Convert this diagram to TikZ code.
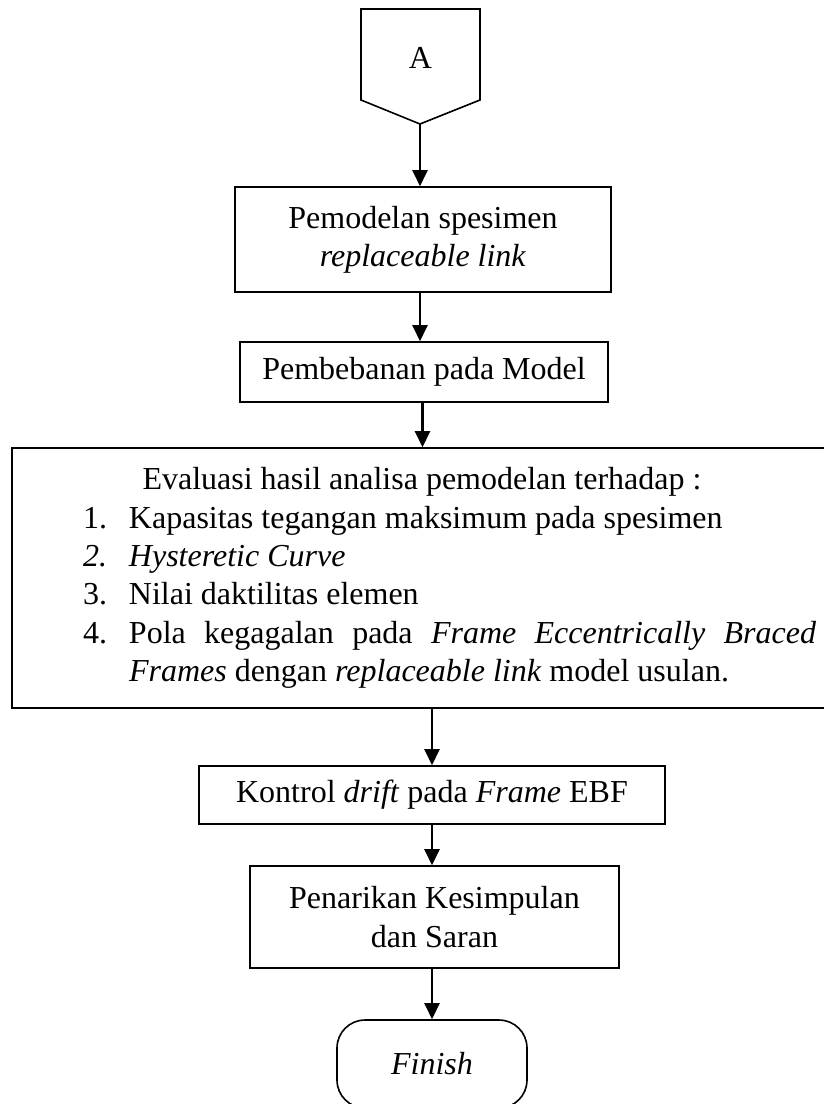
\documentclass[tikz,border=0pt]{standalone}
\usepackage{fontspec}
\setmainfont{Liberation Serif}
\usetikzlibrary{arrows.meta,calc}
\newcommand\bigfnt{\fontsize{32pt}{38.4pt}\selectfont}
\begin{document}
\begin{tikzpicture}[x=1pt,y=-1pt,
  box/.style={draw, line width=1.6pt, inner sep=0pt, align=center, font=\bigfnt},
  term/.style={draw, line width=1.6pt, inner sep=0pt, rounded corners=28pt, font=\bigfnt},
  offpage/.style={draw, line width=1.6pt, line join=miter},
  arr/.style={line width=2.4pt, -{Triangle[length=16pt,width=15pt]}}]
\useasboundingbox (0,0) rectangle (823,1104);
% off-page connector A
\draw[offpage] (361,9) -- (480,9) -- (480,100) -- (420,124) -- (361,100) -- cycle;
\node[font=\bigfnt, inner sep=0pt] (A) at (420.5,58) {A};
\coordinate (Atip) at (420,124);
% boxes
\node[box, minimum width=376pt, minimum height=105pt] (b1) at (423,239.5)
  {Pemodelan spesimen\\\textit{replaceable link}};
\node[box, minimum width=368pt, minimum height=60pt] (b2) at (424,372)
  {Pembebanan pada Model};
\node[box, minimum width=820pt, minimum height=260pt] (b3) at (422,578)
  {\parbox{788pt}{\bigfnt\tolerance=9999\emergencystretch=40pt
   \centering Evaluasi hasil analisa pemodelan terhadap :\par
   \leftskip=101pt\rightskip=0pt\parfillskip=0pt plus 1fil
   \noindent\llap{\makebox[46pt][l]{1.}}Kapasitas tegangan maksimum pada spesimen\par
   \noindent\llap{\makebox[46pt][l]{\itshape 2.}}\textit{Hysteretic Curve}\par
   \noindent\llap{\makebox[46pt][l]{3.}}Nilai daktilitas elemen\par
   \noindent\llap{\makebox[46pt][l]{4.}}Pola kegagalan pada \textit{Frame Eccentrically Braced Frames} dengan \textit{replaceable link} model usulan.\par}};
\node[box, minimum width=466pt, minimum height=58pt] (b4) at (432,795)
  {Kontrol \textit{drift} pada \textit{Frame} EBF};
\node[box, minimum width=369pt, minimum height=102pt] (b5) at (434.5,917)
  {Penarikan Kesimpulan\\dan Saran};
\node[term, minimum width=190pt, minimum height=88pt] (fin) at (432,1064)
  {\textit{Finish}};
% connectors
\draw[arr] (Atip) -- (Atip |- b1.north);
\draw[arr] (b1.south -| Atip) -- (Atip |- b2.north);
\draw[arr] ([xshift=-1.5pt]b2.south) -- ([xshift=-1.5pt]b2.south |- b3.north);
\draw[arr] (b3.south -| fin.north) -- (fin.north |- b4.north);
\draw[arr] (b4.south) -- (b4.south |- b5.north);
\draw[arr] (b5.south -| fin.north) -- (fin.north);
\end{tikzpicture}
\end{document}
